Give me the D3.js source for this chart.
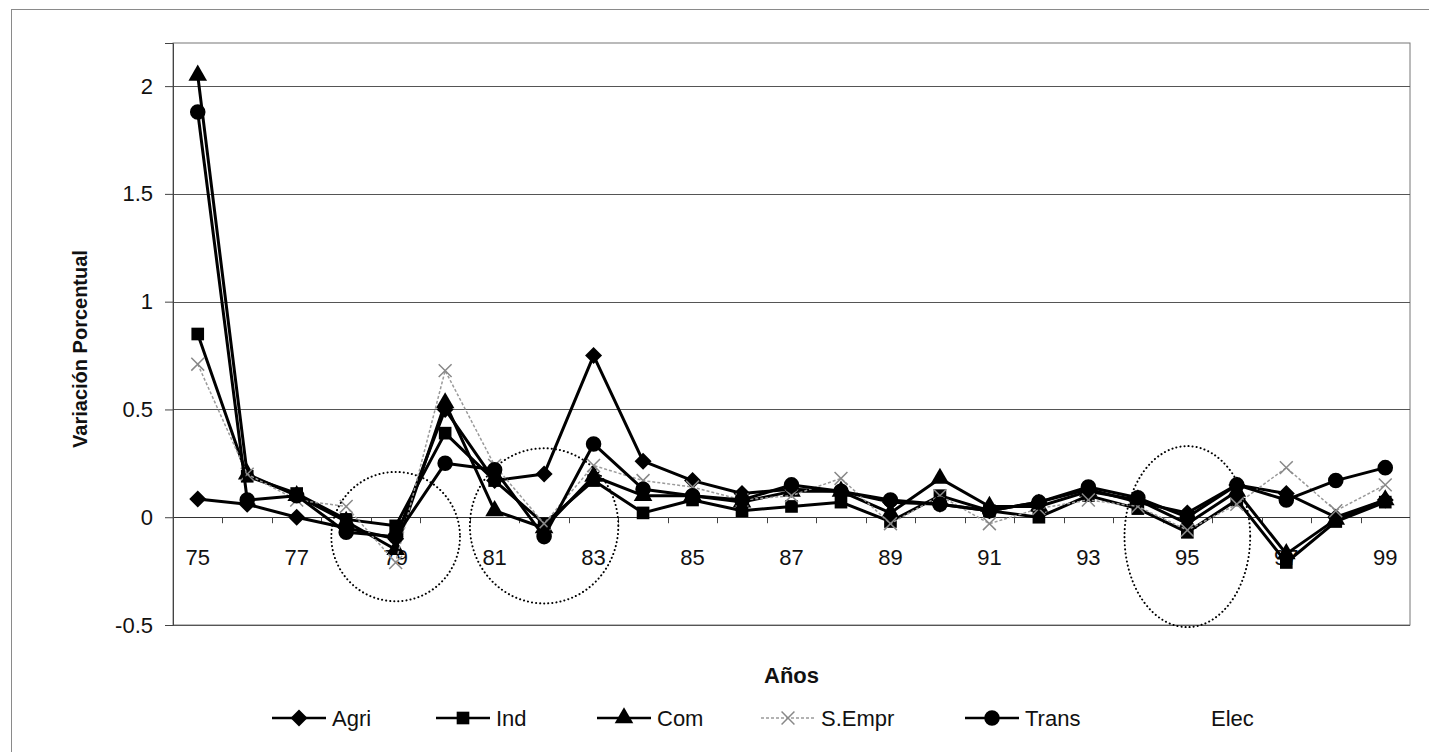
<!DOCTYPE html>
<html>
<head>
<meta charset="utf-8">
<script src="https://cdn.jsdelivr.net/npm/d3@7"></script>
<style>
  html, body { margin: 0; padding: 0; background: #fff; }
  svg { display: block; font-family: "Liberation Sans", Arial, sans-serif; }
</style>
</head>
<body>
<svg id="chart" width="1429" height="752"></svg>
<script>
// ---- data ----
const years = ["75","76","77","78","79","80","81","82","83","84","85","86","87","88","89","90","91","92","93","94","95","96","97","98","99"];
const yTicks = [-0.5, 0, 0.5, 1, 1.5, 2];
const agri  = [0.085, 0.06, 0.00, -0.05, -0.10, 0.50, 0.17, 0.20, 0.75, 0.26, 0.17, 0.11, 0.13, 0.12, 0.07, 0.06, 0.03, 0.07, 0.13, 0.07, 0.02, 0.15, 0.11, 0.00, 0.08];
const ind   = [0.85, 0.19, 0.11, -0.01, -0.04, 0.39, 0.17, -0.03, 0.17, 0.02, 0.08, 0.03, 0.05, 0.07, -0.02, 0.10, 0.03, 0.00, 0.10, 0.04, -0.07, 0.08, -0.21, -0.02, 0.07];
const com   = [2.05, 0.20, 0.10, -0.02, -0.15, 0.53, 0.03, -0.05, 0.19, 0.10, 0.10, 0.07, 0.12, 0.12, 0.02, 0.18, 0.05, 0.05, 0.12, 0.08, -0.03, 0.12, -0.17, -0.01, 0.08];
const sempr = [0.71, 0.20, 0.08, 0.05, -0.21, 0.68, 0.24, -0.03, 0.24, 0.17, 0.14, 0.08, 0.10, 0.18, -0.03, 0.10, -0.03, 0.04, 0.08, 0.05, -0.06, 0.06, 0.23, 0.03, 0.15];
const trans = [1.88, 0.08, 0.10, -0.07, -0.09, 0.25, 0.22, -0.09, 0.34, 0.13, 0.10, 0.08, 0.15, 0.12, 0.08, 0.06, 0.03, 0.07, 0.14, 0.09, 0.00, 0.15, 0.08, 0.17, 0.23];
const seriesNames = ["Agri", "Ind", "Com", "S.Empr", "Trans", "Elec"];
// highlighted years (dotted ellipses): [center year, center value, x-radius in categories, y-radius in value units]
const highlights = [["79", -0.09, 1.3, 0.30], ["82", -0.04, 1.5, 0.36], ["95", -0.09, 1.27, 0.42]];

// ---- layout ----
const svg = d3.select("#chart");
const L = 173, R = 1410, T = 43, B = 625;

const x = d3.scaleBand().domain(years).range([L, R]).paddingInner(0).paddingOuter(0);
const xc = d => x(d) + x.bandwidth() / 2;
const y = d3.scaleLinear().domain([-0.5, 2.2]).range([B, T]);

// outer frame
svg.append("rect").attr("x", 11.5).attr("y", 9.5).attr("width", 1440).attr("height", 780)
  .attr("fill", "none").attr("stroke", "#8a8a8a").attr("stroke-width", 1);

// plot area border
svg.append("rect").attr("x", L).attr("y", T).attr("width", R - L).attr("height", B - T)
  .attr("fill", "none").attr("stroke", "#777").attr("stroke-width", 1);

// gridlines
svg.append("g").selectAll("line").data(yTicks).join("line")
  .attr("x1", L).attr("x2", R)
  .attr("y1", d => Math.round(y(d)) + 0.5).attr("y2", d => Math.round(y(d)) + 0.5)
  .attr("stroke", d => d === 0 ? "#333" : "#555").attr("stroke-width", 1);

// y axis
const yAxis = d3.axisLeft(y).tickValues(yTicks).tickSize(8).tickPadding(12).tickFormat(d => String(d));
const gy = svg.append("g").attr("transform", `translate(${L},0)`).call(yAxis);
gy.select(".domain").attr("stroke", "#444");
gy.selectAll(".tick line").attr("stroke", "#444");
gy.selectAll(".tick text").attr("font-size", 22).attr("fill", "#111")
  .attr("font-family", "'Liberation Sans', Arial, sans-serif");

// x axis at zero: ticks at category boundaries
const boundaries = years.map(d => x(d)).slice(1);
svg.append("g").selectAll("line").data(boundaries).join("line")
  .attr("x1", d => Math.round(d) + 0.5).attr("x2", d => Math.round(d) + 0.5)
  .attr("y1", y(0)).attr("y2", y(0) + 6)
  .attr("stroke", "#444").attr("stroke-width", 1);

svg.append("g").selectAll("text").data(years.filter((d, i) => i % 2 === 0)).join("text")
  .attr("x", d => xc(d)).attr("y", y(0) + 48)
  .attr("text-anchor", "middle").attr("font-size", 22).attr("fill", "#111")
  .text(d => d);

// axis titles
svg.append("text").attr("transform", `translate(87,${(T + B) / 2 + 15}) rotate(-90)`)
  .attr("text-anchor", "middle").attr("font-size", 20).attr("font-weight", "bold").attr("fill", "#111")
  .text("Variación Porcentual");
svg.append("text").attr("x", (L + R) / 2).attr("y", 683)
  .attr("text-anchor", "middle").attr("font-size", 22).attr("font-weight", "bold").attr("fill", "#111")
  .text("Años");

// ---- markers ----
const diamond = "M0,-8.5L8.5,0L0,8.5L-8.5,0Z";
const square = d3.symbol().type(d3.symbolSquare).size(160);
const triangle = d3.symbol().type(d3.symbolTriangle).size(150);
const circle = d3.symbol().type(d3.symbolCircle).size(190);
const cross = d3.symbol().type(d3.symbolX).size(110);

const seriesDefs = [
  { name: "Agri", values: agri, stroke: "#000", width: 3, dash: null, sym: diamond, fill: "#000" },
  { name: "Ind", values: ind, stroke: "#000", width: 3, dash: null, sym: square, fill: "#000" },
  { name: "Com", values: com, stroke: "#000", width: 3, dash: null, sym: triangle, fill: "#000" },
  { name: "S.Empr", values: sempr, stroke: "#9a9a9a", width: 1.5, dash: "3,2", sym: cross, fill: "none", symStroke: "#888" },
  { name: "Trans", values: trans, stroke: "#000", width: 3, dash: null, sym: circle, fill: "#000" }
];

const line = d3.line().x(d => xc(d.year)).y(d => y(d.v));

seriesDefs.forEach(s => {
  const pts = years.map((yr, i) => ({ year: yr, v: s.values[i] }));
  const g = svg.append("g");
  g.append("path").datum(pts).attr("d", line)
    .attr("fill", "none").attr("stroke", s.stroke).attr("stroke-width", s.width)
    .attr("stroke-dasharray", s.dash).attr("stroke-linejoin", "round");
  g.selectAll("path.m").data(pts).join("path").attr("class", "m")
    .attr("d", s.sym)
    .attr("transform", d => `translate(${xc(d.year)},${y(d.v)})`)
    .attr("fill", s.fill)
    .attr("stroke", s.symStroke || "none").attr("stroke-width", s.symStroke ? 1.5 : 0);
});

// dotted highlight ellipses
svg.append("g").selectAll("ellipse").data(highlights).join("ellipse")
  .attr("cx", d => xc(d[0])).attr("cy", d => y(d[1]))
  .attr("rx", d => d[2] * x.bandwidth()).attr("ry", d => y(0) - y(d[3]))
  .attr("fill", "none").attr("stroke", "#000").attr("stroke-width", 2)
  .attr("stroke-dasharray", "0.1,4").attr("stroke-linecap", "round");

// ---- legend ----
const legendY = 718;
const legendX = [299, 463, 624, 788, 992, 1178];
const lg = svg.append("g");
seriesNames.forEach((name, i) => {
  const cx = legendX[i];
  const s = seriesDefs[i];
  if (s) {
    lg.append("line").attr("x1", cx - 27).attr("x2", cx + 27).attr("y1", legendY).attr("y2", legendY)
      .attr("stroke", s.stroke).attr("stroke-width", s.name === "S.Empr" ? 1.5 : 2.5)
      .attr("stroke-dasharray", s.dash);
    lg.append("path").attr("d", s.sym).attr("transform", `translate(${cx},${legendY})`)
      .attr("fill", s.fill).attr("stroke", s.symStroke || "none").attr("stroke-width", s.symStroke ? 1.5 : 0);
  }
  lg.append("text").attr("x", cx + 33).attr("y", legendY + 8)
    .attr("font-size", 22).attr("fill", "#111").text(name);
});
</script>
</body>
</html>
